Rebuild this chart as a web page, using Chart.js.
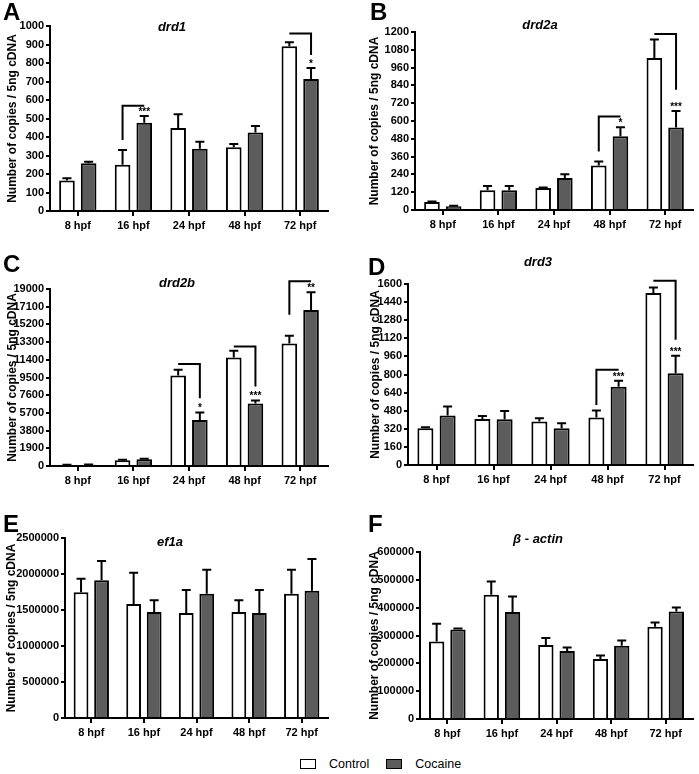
<!DOCTYPE html>
<html>
<head>
<meta charset="utf-8">
<script src="https://cdn.jsdelivr.net/npm/chart.js@4.4.1/dist/chart.umd.min.js"></script>
<style>
  body { margin: 0; background: #fff; width: 699px; height: 774px; position: relative; overflow: hidden;
         font-family: "Liberation Sans", Arial, sans-serif; }
  .panel { position: absolute; }
  #legend { position: absolute; left: 300px; top: 757px; display: flex; align-items: center;
            font-size: 12.5px; color: #000; }
  #legend .sw { display: inline-block; width: 14px; height: 8px; border: 1.5px solid #000; margin-right: 13px; }
  #legend .lbl { margin-right: 17px; }
</style>
</head>
<body>
<div id="legend"></div>
<script>
// categories
const hours = ['8 hpf', '16 hpf', '24 hpf', '48 hpf', '72 hpf'];
const groups = ['Control', 'Cocaine'];
const groupColors = ['#ffffff', '#5c5c5c'];

// drd1
const drd1Control = [165, 250, 449, 344, 890];
const drd1ControlErr = [12, 80, 74, 18, 22];
const drd1Cocaine = [258, 477, 337, 425, 714];
const drd1CocaineErr = [8, 36, 38, 34, 59];
const drd1Ticks = [0, 100, 200, 300, 400, 500, 600, 700, 800, 900, 1000];
const drd1Sig = [
    { at: 1, top: 569, side: 'left', drop: 384, mark: '***' },
    { at: 4, top: 960, side: 'right', drop: 843, mark: '*' }
];

// drd2a
const drd2aControl = [54, 133, 149, 300, 1025];
const drd2aControlErr = [4, 29, 2, 27, 124];
const drd2aCocaine = [25, 133, 216, 498, 556];
const drd2aCocaineErr = [3, 29, 25, 60, 111];
const drd2aTicks = [0, 120, 240, 360, 480, 600, 720, 840, 960, 1080, 1200];
const drd2aSig = [
    { at: 3, top: 631, side: 'left', drop: 394, mark: '*' },
    { at: 4, top: 1187, side: 'right', drop: 811, mark: '***' }
];

// drd2b
const drd2bControl = [110, 610, 9720, 11650, 13160];
const drd2bControlErr = [20, 70, 610, 720, 820];
const drd2bCocaine = [140, 720, 4950, 6700, 16750];
const drd2bCocaineErr = [20, 70, 790, 330, 1900];
const drd2bTicks = [0, 1900, 3800, 5700, 7600, 9500, 11400, 13300, 15200, 17100, 19000];
const drd2bSig = [
    { at: 2, top: 10940, side: 'right', drop: 7280, mark: '*' },
    { at: 3, top: 12840, side: 'right', drop: 8530, mark: '***' },
    { at: 4, top: 19830, side: 'left', drop: 16240, mark: '**' }
];

// drd3
const drd3Control = [325, 407, 384, 419, 1520];
const drd3ControlErr = [9, 27, 29, 62, 50];
const drd3Cocaine = [437, 404, 325, 691, 812];
const drd3CocaineErr = [80, 74, 44, 53, 153];
const drd3Ticks = [0, 160, 320, 480, 640, 800, 960, 1120, 1280, 1440, 1600];
const drd3Sig = [
    { at: 3, top: 841, side: 'left', drop: 531, mark: '***' },
    { at: 4, top: 1629, side: 'right', drop: 1107, mark: '***' }
];

// ef1a
const ef1aControl = [1745000, 1583000, 1458000, 1472000, 1727000];
const ef1aControlErr = [190000, 435000, 320000, 162000, 333000];
const ef1aCocaine = [1912000, 1472000, 1727000, 1458000, 1769000];
const ef1aCocaineErr = [269000, 162000, 333000, 320000, 440000];
const ef1aTicks = [0, 500000, 1000000, 1500000, 2000000, 2500000];

// beta-actin
const actinControl = [278000, 446000, 266000, 216000, 331000];
const actinControlErr = [64000, 48000, 25000, 12000, 16000];
const actinCocaine = [322000, 384000, 244000, 263000, 386000];
const actinCocaineErr = [3000, 56000, 13000, 19000, 15000];
const actinTicks = [0, 100000, 200000, 300000, 400000, 500000, 600000];

const FONT = '"Liberation Sans", Arial, sans-serif';

// panel layout (page position, plot area inside the canvas, headings)
const panels = [
    { x: 0, y: 0, w: 350, h: 250, area: { l: 50, t: 26, r: 328, b: 211 },
      letter: 'A', letterPos: [3, 20], title: 'drd1', titlePos: [172, 27], axisTitleX: 13,
      control: drd1Control, controlErr: drd1ControlErr, cocaine: drd1Cocaine, cocaineErr: drd1CocaineErr,
      ticks: drd1Ticks, sig: drd1Sig },
    { x: 350, y: 0, w: 349, h: 250, area: { l: 65, t: 32, r: 343, b: 210 },
      letter: 'B', letterPos: [20, 20], title: 'drd2a', titlePos: [190, 25], axisTitleX: 25,
      control: drd2aControl, controlErr: drd2aControlErr, cocaine: drd2aCocaine, cocaineErr: drd2aCocaineErr,
      ticks: drd2aTicks, sig: drd2aSig },
    { x: 0, y: 250, w: 350, h: 250, area: { l: 50, t: 39, r: 328, b: 216 },
      letter: 'C', letterPos: [3, 22], title: 'drd2b', titlePos: [177, 33], axisTitleX: 13,
      control: drd2bControl, controlErr: drd2bControlErr, cocaine: drd2bCocaine, cocaineErr: drd2bCocaineErr,
      ticks: drd2bTicks, sig: drd2bSig },
    { x: 350, y: 250, w: 349, h: 250, area: { l: 58, t: 34, r: 343, b: 215 },
      letter: 'D', letterPos: [18, 25], title: 'drd3', titlePos: [188, 12], axisTitleX: 26,
      control: drd3Control, controlErr: drd3ControlErr, cocaine: drd3Cocaine, cocaineErr: drd3CocaineErr,
      ticks: drd3Ticks, sig: drd3Sig },
    { x: 0, y: 500, w: 350, h: 255, area: { l: 65, t: 38, r: 328, b: 218 },
      letter: 'E', letterPos: [3, 32], title: 'ef1a', titlePos: [170, 42], axisTitleX: 12,
      control: ef1aControl, controlErr: ef1aControlErr, cocaine: ef1aCocaine, cocaineErr: ef1aCocaineErr,
      ticks: ef1aTicks, sig: [] },
    { x: 350, y: 500, w: 349, h: 255, area: { l: 70, t: 52, r: 343, b: 219 },
      letter: 'F', letterPos: [18, 32], title: '\u03b2 - actin', titlePos: [188, 39], axisTitleX: 25,
      control: actinControl, controlErr: actinControlErr, cocaine: actinCocaine, cocaineErr: actinCocaineErr,
      ticks: actinTicks, sig: [] }
];

// upward error bars with caps
const errorBarPlugin = {
    id: 'errorBars',
    afterDatasetsDraw(chart) {
        const ctx = chart.ctx;
        const y = chart.scales.y;
        ctx.save();
        ctx.strokeStyle = '#000';
        ctx.lineWidth = 2;
        chart.data.datasets.forEach((ds, i) => {
            chart.getDatasetMeta(i).data.forEach((bar, j) => {
                const top = y.getPixelForValue(ds.data[j] + ds.errors[j]);
                ctx.beginPath();
                ctx.moveTo(bar.x, bar.y);
                ctx.lineTo(bar.x, top);
                ctx.moveTo(bar.x - 4.5, top);
                ctx.lineTo(bar.x + 4.5, top);
                ctx.stroke();
            });
        });
        ctx.restore();
    }
};

// significance brackets + panel letter and gene title
function makeDecorPlugin(p) {
    return {
        id: 'decor',
        afterDraw(chart) {
            const ctx = chart.ctx;
            const y = chart.scales.y;
            const m0 = chart.getDatasetMeta(0).data;
            const m1 = chart.getDatasetMeta(1).data;
            const coc = chart.data.datasets[1];
            ctx.save();
            ctx.strokeStyle = '#000';
            ctx.fillStyle = '#000';
            ctx.lineWidth = 2;
            ctx.lineJoin = 'miter';
            p.sig.forEach(s => {
                const x0 = m0[s.at].x, x1 = m1[s.at].x;
                const yt = y.getPixelForValue(s.top);
                const yd = y.getPixelForValue(s.drop);
                ctx.beginPath();
                if (s.side === 'left') {
                    ctx.moveTo(x1, yt); ctx.lineTo(x0, yt); ctx.lineTo(x0, yd);
                } else {
                    ctx.moveTo(x0, yt); ctx.lineTo(x1, yt); ctx.lineTo(x1, yd);
                }
                ctx.stroke();
                const ym = y.getPixelForValue(coc.data[s.at] + coc.errors[s.at]);
                ctx.font = 'bold 10px ' + FONT;
                ctx.textAlign = 'center';
                ctx.textBaseline = 'bottom';
                ctx.fillText(s.mark, x1, ym + 1);
            });
            ctx.font = 'bold 24px ' + FONT;
            ctx.textAlign = 'left';
            ctx.textBaseline = 'alphabetic';
            ctx.fillText(p.letter, p.letterPos[0], p.letterPos[1]);
            ctx.font = 'italic bold 13px ' + FONT;
            ctx.textAlign = 'center';
            ctx.textBaseline = 'middle';
            ctx.fillText(p.title, p.titlePos[0], p.titlePos[1]);
            ctx.restore();
        }
    };
}

function makePanel(p) {
    const wrap = document.createElement('div');
    wrap.className = 'panel';
    wrap.style.left = p.x + 'px';
    wrap.style.top = p.y + 'px';
    const canvas = document.createElement('canvas');
    canvas.width = p.w;
    canvas.height = p.h;
    wrap.appendChild(canvas);
    document.body.appendChild(wrap);

    const tickFont = { family: FONT, size: 11, weight: 'bold' };
    const values = [[p.control, p.controlErr], [p.cocaine, p.cocaineErr]];

    return new Chart(canvas, {
        type: 'bar',
        data: {
            labels: hours,
            datasets: groups.map((g, i) => ({
                label: g,
                data: values[i][0],
                errors: values[i][1],
                backgroundColor: groupColors[i],
                borderColor: '#000',
                borderWidth: 2,
                categoryPercentage: 0.78,
                barPercentage: 0.72
            }))
        },
        options: {
            responsive: false,
            animation: false,
            devicePixelRatio: 1,
            layout: { padding: { top: p.area.t, right: p.w - p.area.r, left: 0, bottom: 0 } },
            plugins: { legend: { display: false }, tooltip: { enabled: false } },
            scales: {
                x: {
                    grid: { display: true, drawOnChartArea: false, offset: false, tickLength: 5, color: '#000', lineWidth: 2 },
                    border: { color: '#000', width: 2 },
                    ticks: { color: '#000', font: tickFont, padding: 3, maxRotation: 0, autoSkip: false },
                    afterFit: s => { s.height = p.h - p.area.b; }
                },
                y: {
                    min: 0,
                    max: p.ticks[p.ticks.length - 1],
                    afterBuildTicks: s => { s.ticks = p.ticks.map(v => ({ value: v })); },
                    grid: { display: true, drawOnChartArea: false, tickLength: 4, color: '#000', lineWidth: 2 },
                    border: { color: '#000', width: 2 },
                    ticks: { color: '#000', font: tickFont, padding: 2, callback: v => String(v) },
                    title: {
                        display: true,
                        text: 'Number of copies / 5ng cDNA',
                        color: '#000',
                        font: { family: FONT, size: 12, weight: 'bold' },
                        padding: { top: p.axisTitleX - 7.2, bottom: 0 }
                    },
                    afterFit: s => { s.width = p.area.l; }
                }
            }
        },
        plugins: [errorBarPlugin, makeDecorPlugin(p)]
    });
}

panels.forEach(makePanel);

// legend
const legend = document.getElementById('legend');
groups.forEach((g, i) => {
    const sw = document.createElement('span');
    sw.className = 'sw';
    sw.style.background = groupColors[i];
    const lbl = document.createElement('span');
    lbl.className = 'lbl';
    lbl.textContent = g;
    legend.appendChild(sw);
    legend.appendChild(lbl);
});
</script>
</body>
</html>
